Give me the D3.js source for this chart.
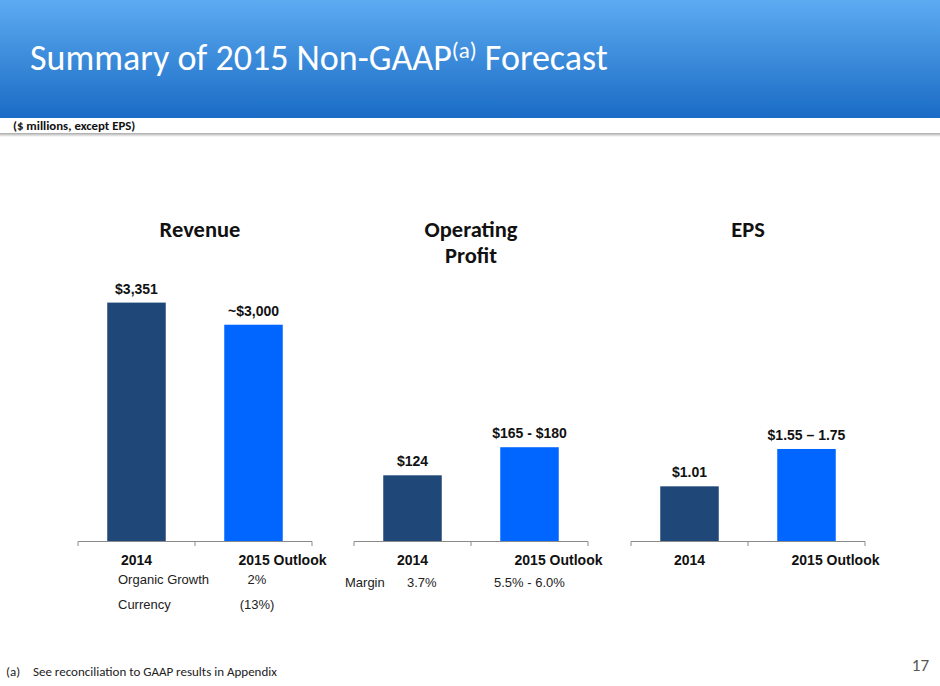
<!DOCTYPE html>
<html>
<head>
<meta charset="utf-8">
<script src="https://cdn.jsdelivr.net/npm/d3@7"></script>
<style>
    body { margin: 0; background: #fff; }
    svg { display: block; }
    .cal { font-family: Carlito, Calibri, Lato, sans-serif; }
    .ari { font-family: "Liberation Sans", Arial, sans-serif; }
</style>
</head>
<body>
<svg id="chart" width="940" height="686"></svg>
<script>
// data
var categories = ["2014", "2015 Outlook"];
var panelTitles = [["Revenue"], ["Operating", "Profit"], ["EPS"]];
var revenue = [3351, 3040];
var revenueLabels = ["$3,351", "~$3,000"];
var opProfit = [124, 177];
var opProfitLabels = ["$124", "$165 - $180"];
var eps = [1.01, 1.70];
var epsLabels = ["$1.01", "$1.55 \u2013 1.75"];
var revenueNotes = [["Organic Growth", "2%"], ["Currency", "(13%)"]];
var marginNotes = ["Margin", "3.7%", "5.5% - 6.0%"];
var barColors = ["#1F4778", "#0066FF"];

var svg = d3.select("#chart");

// header band
var defs = svg.append("defs");
var grad = defs.append("linearGradient").attr("id", "hdr").attr("x1", 0).attr("y1", 0).attr("x2", 0).attr("y2", 1);
grad.append("stop").attr("offset", "0%").attr("stop-color", "#5DABF1");
grad.append("stop").attr("offset", "100%").attr("stop-color", "#1A6BC5");
var shade = defs.append("linearGradient").attr("id", "shade").attr("x1", 0).attr("y1", 0).attr("x2", 0).attr("y2", 1);
shade.append("stop").attr("offset", "0%").attr("stop-color", "#a9a9a9");
shade.append("stop").attr("offset", "100%").attr("stop-color", "#ffffff");

svg.append("rect").attr("x", 0).attr("y", 0).attr("width", 940).attr("height", 118).attr("fill", "url(#hdr)");
svg.append("rect").attr("x", 0).attr("y", 133).attr("width", 940).attr("height", 4).attr("fill", "url(#shade)");

var title = svg.append("text").attr("class", "cal").attr("x", 30).attr("y", 70)
    .attr("fill", "#fff").style("font-size", "36px");
title.append("tspan").text("Summary of 2015 Non-GAAP");
title.append("tspan").attr("dy", -12).style("font-size", "23px").text("(a)");
title.append("tspan").attr("dy", 12).text(" Forecast");

svg.append("text").attr("class", "cal").attr("x", 13).attr("y", 130)
    .style("font-size", "12.8px").style("font-weight", "bold").attr("fill", "#111")
    .text("($ millions, except EPS)");

// three panels
var panels = [
    {values: revenue, labels: revenueLabels, max: 3500, x0: 78},
    {values: opProfit, labels: opProfitLabels, max: 470, x0: 354},
    {values: eps, labels: epsLabels, max: 4.6, x0: 631}
];
var panelW = 234, baseY = 541, topY = 292;

panels.forEach(function(p, i) {
    var x = d3.scaleBand().domain(categories).range([p.x0, p.x0 + panelW])
        .paddingInner(0.5).paddingOuter(0.25);
    var y = d3.scaleLinear().domain([0, p.max]).range([baseY, topY]);
    var g = svg.append("g");

    g.selectAll("rect.bar").data(p.values).enter().append("rect")
        .attr("class", "bar")
        .attr("x", function(d, j) { return x(categories[j]); })
        .attr("y", function(d) { return y(d); })
        .attr("width", x.bandwidth())
        .attr("height", function(d) { return y(0) - y(d); })
        .attr("fill", function(d, j) { return barColors[j]; });

    g.selectAll("text.val").data(p.values).enter().append("text")
        .attr("class", "val ari")
        .attr("x", function(d, j) { return x(categories[j]) + x.bandwidth() / 2; })
        .attr("y", function(d) { return y(d) - 9; })
        .attr("text-anchor", "middle")
        .style("font-size", "14px").style("font-weight", "bold").attr("fill", "#111")
        .text(function(d, j) { return p.labels[j]; });

    // axis: labels from d3, ticks at band boundaries
    var ax = g.append("g").attr("transform", "translate(0," + baseY + ")")
        .call(d3.axisBottom(x).tickSize(0).tickPadding(14));
    ax.select(".domain").attr("stroke", "#8a8a8a").attr("d", "M" + p.x0 + ",0.5H" + (p.x0 + panelW));
    ax.selectAll(".tick text").attr("class", "ari")
        .style("font-size", "14px").style("font-weight", "bold").attr("fill", "#111")
        .attr("dx", function(d, j) { return j === 1 ? 29 : 0; });
    var bounds = [x.range()[0], (x(categories[0]) + x(categories[1]) + x.bandwidth()) / 2, x.range()[1]];
    ax.selectAll("line.bt").data(bounds).enter().append("line").attr("class", "bt")
        .attr("x1", function(d) { return d; }).attr("x2", function(d) { return d; })
        .attr("y1", 0.5).attr("y2", 5).attr("stroke", "#8a8a8a");

    var cx = bounds[1] + (i === 0 ? 5 : 0);
    var t = g.append("text").attr("class", "cal")
        .attr("x", cx).attr("y", 237)
        .attr("text-anchor", "middle").style("font-size", "22.5px").style("font-weight", "bold").attr("fill", "#111");
    panelTitles[i].forEach(function(line, k) {
        t.append("tspan").attr("x", cx).attr("dy", k === 0 ? 0 : 26).text(line);
    });
});

// notes under the axes
var notes = svg.append("g").attr("class", "ari").style("font-size", "13px").attr("fill", "#222");
notes.selectAll("text.rn").data(revenueNotes).enter().append("text")
    .attr("x", 118).attr("y", function(d, k) { return 584 + k * 25; }).text(function(d) { return d[0]; });
notes.selectAll("text.rv").data(revenueNotes).enter().append("text")
    .attr("x", 257).attr("text-anchor", "middle").attr("y", function(d, k) { return 584 + k * 25; })
    .text(function(d) { return d[1]; });
notes.append("text").attr("x", 345).attr("y", 587).text(marginNotes[0]);
notes.append("text").attr("x", 407).attr("y", 587).text(marginNotes[1]);
notes.append("text").attr("x", 494).attr("y", 587).text(marginNotes[2]);

// footer
svg.append("text").attr("class", "cal").attr("x", 6).attr("y", 676)
    .style("font-size", "13px").attr("fill", "#222").text("(a)");
svg.append("text").attr("class", "cal").attr("x", 33).attr("y", 676)
    .style("font-size", "13px").attr("fill", "#222").text("See reconciliation to GAAP results in Appendix");
svg.append("text").attr("class", "cal").attr("x", 929).attr("y", 671).attr("text-anchor", "end")
    .style("font-size", "17px").attr("fill", "#555").text("17");
</script>
</body>
</html>
